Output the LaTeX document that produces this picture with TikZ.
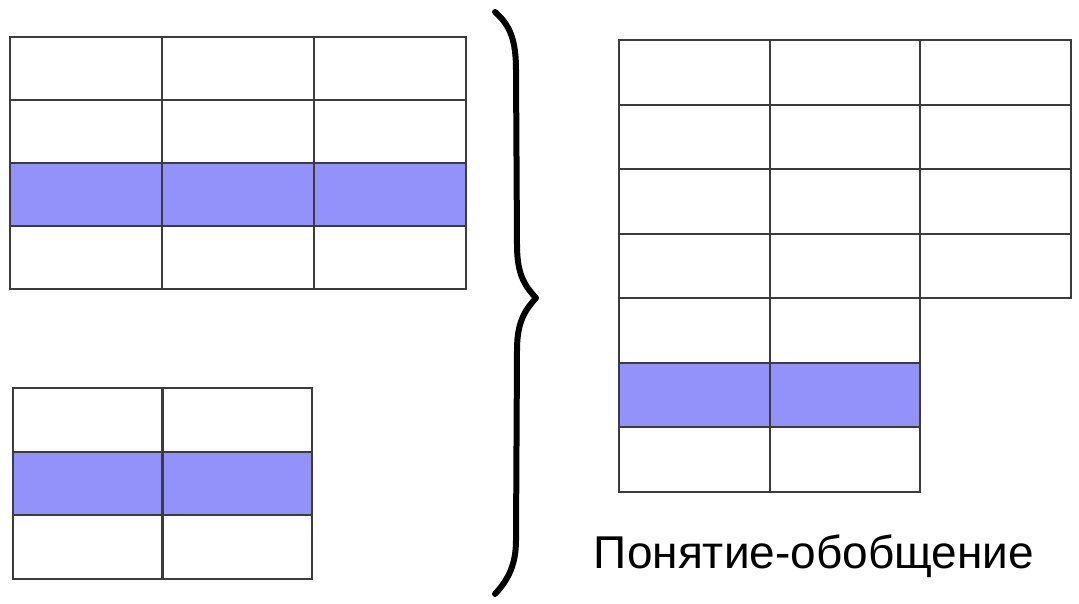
\documentclass[tikz,border=0pt]{standalone}
\usepackage{fontspec}
\setmainfont{Liberation Sans}
\usetikzlibrary{matrix}

\definecolor{rowBlue}{RGB}{146,146,250}
\definecolor{lineGray}{RGB}{60,60,60}

\tikzset{
  cellgrid/.style={matrix of nodes, nodes in empty cells, anchor=north west,
    inner sep=0pt, outer sep=0pt, row sep=-2.4pt, column sep=-2.4pt,
    nodes={draw=lineGray, line width=2.4pt, inner sep=0pt, outer sep=0pt, anchor=center}},
  hl/.style={fill=rowBlue},
  braceline/.style={line width=6pt, line cap=round, line join=round}
}

\begin{document}
\begin{tikzpicture}[x=1pt,y=-1pt]
  \useasboundingbox (0,0) rectangle (1079,604);

  \matrix (partA) [cellgrid, nodes={minimum width=152pt, minimum height=63pt}] at (9,36)
  {
    & & \\
    & & \\
    |[hl]| & |[hl]| & |[hl]| \\
    & & \\
  };

  \matrix (partB) [cellgrid, nodes={minimum width=149.5pt, minimum height=63.5pt}] at (12,387)
  {
    & \\
    |[hl]| & |[hl]| \\
    & \\
  };

  \matrix (whole) [cellgrid, nodes={minimum width=150.5pt, minimum height=64.5pt}] at (618,39)
  {
    & & \\
    & & \\
    & & \\
    & & \\
    & \\
    |[hl]| & |[hl]| \\
    & \\
  };

  \draw[braceline] (495,12) .. controls (510,25) and (516,40) .. (516,70)
    -- (517,245) .. controls (517,275) and (525,286) .. (536,298)
    .. controls (525,310) and (517,322) .. (517,350)
    -- (516,540) .. controls (516,565) and (508,580) .. (495,594);

  \node[anchor=base, font=\fontsize{46}{55}\selectfont] (caption) at (814,568) {Понятие-обобщение};
\end{tikzpicture}
\end{document}
